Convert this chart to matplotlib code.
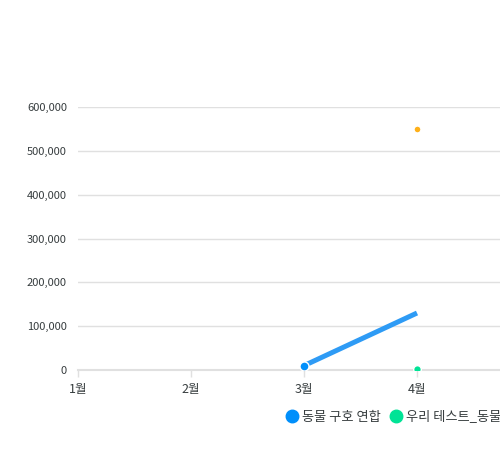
import matplotlib.pyplot as plt
from matplotlib.lines import Line2D
from matplotlib.ticker import FuncFormatter

plt.rcParams['font.family'] = ['Noto Sans CJK KR', 'DejaVu Sans']

months = ['1월', '2월', '3월', '4월']
series_names = ['동물 구호 연합', '우리 테스트_동물', '동물 보호 모임']
colors = ['#008FFB', '#00E396', '#FEB019']

# month index (1-based) and values per series
blue_x = [3, 4]
blue_y = [10000, 130000]
green_x = [4]
green_y = [3000]
orange_x = [4]
orange_y = [550000]

fig = plt.figure(figsize=(5, 4.5), dpi=100)
ax = fig.add_axes([78 / 500, 1 - 370 / 450, 1 - 78 / 500, (370 - 107) / 450])

ax.plot(blue_x, blue_y, color='#2E9BF5', linewidth=3.6, solid_capstyle='butt', zorder=3)
ax.plot(blue_x[:1], blue_y[:1], 'o', color=colors[0], markersize=6.5,
        markeredgecolor='white', markeredgewidth=1, zorder=4)
ax.plot(green_x, green_y, 'o', color=colors[1], markersize=5.5,
        markeredgecolor='white', markeredgewidth=1, zorder=4)
ax.plot(orange_x, orange_y, 'o', color=colors[2], markersize=5,
        markeredgecolor='white', markeredgewidth=1, zorder=4)

ax.set_xticks(range(1, len(months) + 1))
ax.set_xticklabels(months)
ax.set_yticks(range(0, 600001, 100000))
ax.set_xlim(1, 1 + 422 / 113)
ax.set_ylim(0, 600000)
ax.yaxis.set_major_formatter(FuncFormatter(lambda v, p: f'{int(v):,}'))

ax.grid(axis='y', color='#e0e0e0', linewidth=1)
ax.set_axisbelow(True)
for s in ['top', 'right', 'left']:
    ax.spines[s].set_visible(False)
ax.spines['bottom'].set_color('#e0e0e0')
ax.spines['bottom'].set_linewidth(1.5)
ax.tick_params(axis='y', length=0, pad=8, labelsize=8, labelcolor='#373d3f')
ax.tick_params(axis='x', length=5, width=1, color='#e0e0e0', pad=4,
               labelsize=9, labelcolor='#373d3f')

handles = [Line2D([], [], marker='o', linestyle='', color=c, markersize=9)
           for c in colors]
fig.legend(handles, series_names, loc='center left', ncol=3,
           bbox_to_anchor=(274 / 500, 1 - 417 / 450), frameon=False,
           fontsize=9.5, handletextpad=0.25, columnspacing=0.65,
           handlelength=1.0, labelcolor='#373d3f')

fig.savefig('out.png', dpi=100)
